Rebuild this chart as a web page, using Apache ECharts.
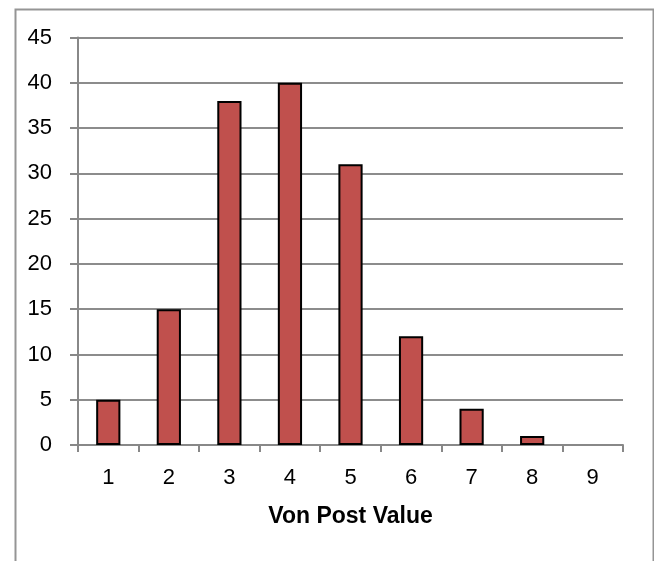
<!DOCTYPE html>
<html>
<head>
<meta charset="utf-8">
<script src="https://cdn.jsdelivr.net/npm/echarts@6/dist/echarts.min.js"></script>
<style>
  html, body { margin: 0; padding: 0; background: #fff; }
  #chart { width: 654px; height: 561px; }
</style>
</head>
<body>
<div id="chart"></div>
<script>
// Von Post humification values and their counts
const categories = ['1', '2', '3', '4', '5', '6', '7', '8', '9'];
const counts = [5, 15, 38, 40, 31, 12, 4, 1, 0];
const axisTitle = 'Von Post Value';

const labelFont = "'Liberation Sans Narrow', 'Arial Narrow', 'Liberation Sans', Arial, sans-serif";

// empty categories get no outline so nothing shows at zero
const barData = counts.map(v => v === 0 ? { value: v, itemStyle: { borderWidth: 0 } } : v);

const chart = echarts.init(document.getElementById('chart'));
chart.setOption({
  animation: false,
  backgroundColor: '#fff',
  graphic: [{
    type: 'rect',
    left: 13, top: 7,
    shape: { width: 638, height: 620 },
    style: { fill: 'none', stroke: '#959595', lineWidth: 2 },
    silent: true
  }],
  grid: { left: 78, right: 31, top: 37.5, bottom: 116, containLabel: false },
  xAxis: {
    type: 'category',
    data: categories,
    boundaryGap: true,
    name: axisTitle,
    nameLocation: 'middle',
    nameGap: 60,
    nameTextStyle: { fontFamily: labelFont, fontWeight: 'bold', fontSize: 23, color: '#000' },
    axisLine: { lineStyle: { color: '#888', width: 2 } },
    axisTick: { show: true, length: 7, lineStyle: { color: '#888', width: 2 } },
    axisLabel: { fontFamily: labelFont, fontSize: 22, color: '#000', margin: 22 }
  },
  yAxis: {
    type: 'value',
    min: 0, max: 45, interval: 5,
    axisLine: { show: true, lineStyle: { color: '#888', width: 2 } },
    axisTick: { show: true, length: 8, lineStyle: { color: '#888', width: 2 } },
    splitLine: { lineStyle: { color: '#8c8c8c', width: 2 } },
    axisLabel: { fontFamily: labelFont, fontSize: 22, color: '#000', margin: 26 }
  },
  series: [{
    type: 'bar',
    data: barData,
    barCategoryGap: '60%',
    itemStyle: { color: '#C0504D', borderColor: '#000', borderWidth: 2 }
  }]
});
</script>
</body>
</html>
